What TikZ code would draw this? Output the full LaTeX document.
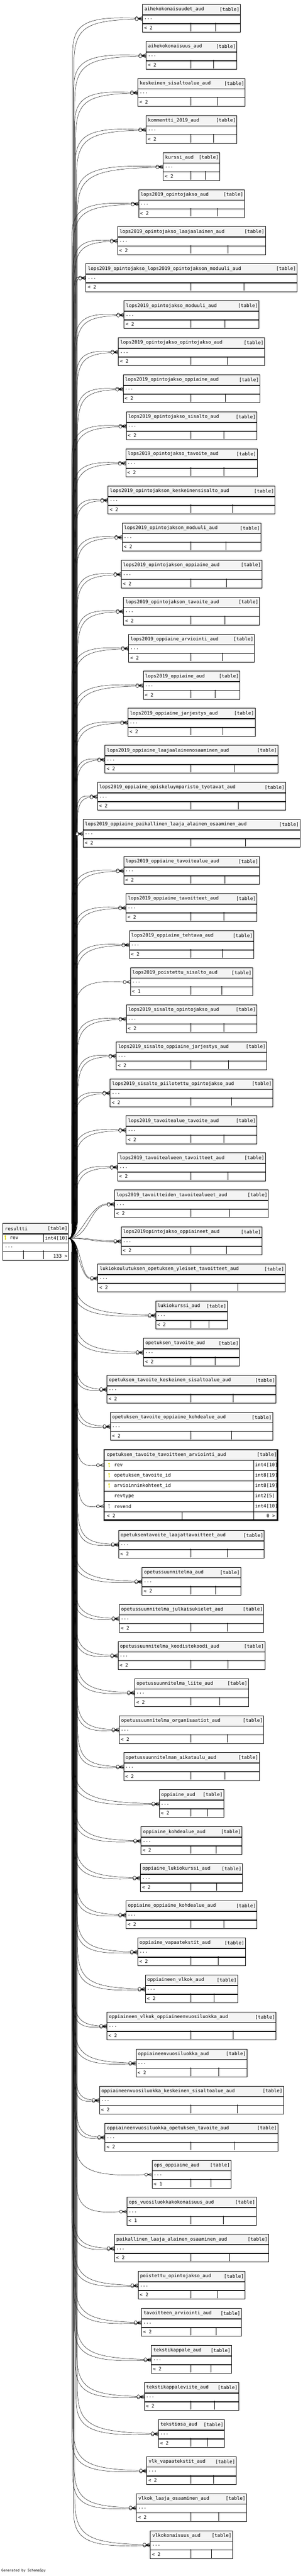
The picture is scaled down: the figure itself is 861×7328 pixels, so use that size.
\documentclass[tikz,border=0pt]{standalone}
\usepackage{fontspec}
\setmonofont{DejaVu Sans Mono}
\usetikzlibrary{positioning}
\definecolor{headgrey}{HTML}{F4F4F4}
\definecolor{pkyellow}{HTML}{E2D800}
\definecolor{fkgrey}{HTML}{A8A8A8}

\begin{document}
\catcode`\_=12
\begin{tikzpicture}[x=1pt,y=-1pt,font=\ttfamily\fontsize{13.4}{15}\selectfont,
  headbox/.style={draw,fill=headgrey,line width=0.9pt,inner sep=0pt,minimum height=29.3pt},
  rowbox/.style={draw,fill=white,line width=0.9pt,inner sep=0pt,minimum height=24.1pt},
  txt/.style={inner sep=0pt,anchor=west},
  edgeline/.style={line width=0.7pt},
  crowfoot/.style={line width=0.9pt}]

\fill[white] (0,0) rectangle (861,7328);
\useasboundingbox (0,0) rectangle (861,7328);

% parent table
\def\sx{194}
\def\sy{3521.35}
\node[headbox,minimum width=186pt,anchor=north west] (rhead) at (8,3480) {};
\node[txt] (rname) at ([xshift=6pt]rhead.west) {resultti};
\node[txt,anchor=east] (rkind) at ([xshift=-3pt]rhead.east) {[table]};
\node[rowbox,minimum width=186pt,anchor=north] (rrev) at (rhead.south) {};
\fill[pkyellow] (15,3516.5) circle (2.6pt) (14.2,3517) rectangle (15.8,3527) (15.8,3523.5) rectangle (17.5,3525);
\node[txt] (rcol) at (28,3521.35) {rev};
\node[txt,anchor=east] (rtyp) at ([xshift=-2pt]rrev.east) {int4[10]};
\draw[line width=0.9pt] (124,3509.3) -- (124,3533.4);
\node[rowbox,minimum width=186pt,anchor=north] (rmore) at (rrev.south) {};
\node[txt] (rdots) at ([xshift=5pt]rmore.west) {...};
\node[rowbox,minimum width=186pt,anchor=north] (rfoot) at (rmore.south) {};
\node[txt,anchor=east] (rkids) at ([xshift=-3pt]rfoot.east) {133 >};
\draw[line width=0.9pt] (66,3557.5) -- (66,3581.6) (124,3557.5) -- (124,3581.6);

% child tables
\foreach \tname/\tw/\tn [count=\i] in {aihekokonaisuudet_aud/278.7/2,aihekokonaisuus_aud/257.8/2,keskeinen_sisaltoalue_aud/305.3/2,kommentti_2019_aud/257.8/2,kurssi_aud/160.7/2,lops2019_opintojakso_aud/300.8/2,lops2019_opintojakso_laajaalainen_aud/420.1/2,lops2019_opintojakso_lops2019_opintojakson_moduuli_aud/600/2,lops2019_opintojakso_moduuli_aud/383.6/2,lops2019_opintojakso_opintojakso_aud/416/2,lops2019_opintojakso_oppiaine_aud/388.9/2,lops2019_opintojakso_sisalto_aud/370.9/2,lops2019_opintojakso_tavoite_aud/373.8/2,lops2019_opintojakson_keskeinensisalto_aud/474.6/2,lops2019_opintojakson_moduuli_aud/394.7/2,lops2019_opintojakson_oppiaine_aud/400/2,lops2019_opintojakson_tavoite_aud/386.5/2,lops2019_oppiaine_arviointi_aud/357.4/2,lops2019_oppiaine_aud/274.6/2,lops2019_oppiaine_jarjestys_aud/361.5/2,lops2019_oppiaine_laajaalainenosaaminen_aud/491.8/2,lops2019_oppiaine_opiskeluymparisto_tyotavat_aud/535.2/2,lops2019_oppiaine_paikallinen_laaja_alainen_osaaminen_aud/616.8/2,lops2019_oppiaine_tavoitealue_aud/385.7/2,lops2019_oppiaine_tavoitteet_aud/372.5/2,lops2019_oppiaine_tehtava_aud/353.7/2,lops2019_poistettu_sisalto_aud/347.1/1,lops2019_sisalto_opintojakso_aud/370.9/2,lops2019_sisalto_oppiaine_jarjestys_aud/428.3/2,lops2019_sisalto_piilotettu_opintojakso_aud/462.7/2,lops2019_tavoitealue_tavoite_aud/371.7/2,lops2019_tavoitealueen_tavoitteet_aud/420.1/2,lops2019_tavoitteiden_tavoitealueet_aud/437.3/2,lops2019opintojakso_oppiaineet_aud/400/2,lukiokoulutuksen_opetuksen_yleiset_tavoitteet_aud/532.8/2,lukiokurssi_aud/204.1/2,opetuksen_tavoite_aud/273.4/2,opetuksen_tavoite_keskeinen_sisaltoalue_aud/480.7/2,opetuksen_tavoite_oppiaine_kohdealue_aud/461.5/2,opetuksen_tavoite_tavoitteen_arviointi_aud/495.9/2,opetuksentavoite_laajattavoitteet_aud/413.9/2,opetussuunnitelma_aud/280.7/2,opetussuunnitelma_julkaisukielet_aud/411.1/2,opetussuunnitelma_koodistokoodi_aud/418/2,opetussuunnitelma_liite_aud/323.4/2,opetussuunnitelma_organisaatiot_aud/411.1/2,opetussuunnitelman_aikataulu_aud/385.7/2,oppiaine_aud/183.6/2,oppiaine_kohdealue_aud/286.9/2,oppiaine_lukiokurssi_aud/290.6/2,oppiaine_oppiaine_kohdealue_aud/372.5/2,oppiaine_vapaatekstit_aud/306.1/2,oppiaineen_vlkok_aud/262.3/2,oppiaineen_vlkok_oppiaineenvuosiluokka_aud/480.7/2,oppiaineenvuosiluokka_aud/315.2/2,oppiaineenvuosiluokka_keskeinen_sisaltoalue_aud/523.4/2,oppiaineenvuosiluokka_opetuksen_tavoite_aud/491.8/2,ops_oppiaine_aud/224.2/1,ops_vuosiluokkakokonaisuus_aud/367.6/1,paikallinen_laaja_alainen_osaaminen_aud/438.1/2,poistettu_opintojakso_aud/303.3/2,tavoitteen_arviointi_aud/284/2,tekstikappale_aud/228.3/2,tekstikappaleviite_aud/268.4/2,tekstiosa_aud/187.7/2,vlk_vapaatekstit_aud/254.5/2,vlkok_laaja_osaaminen_aud/313.1/2,vlkokonaisuus_aud/234/2} {
  \ifnum\i=40\else
  \pgfmathsetmacro\ttop{11.7+(\i-1)*105.4+(\i>40)*125}
  \pgfmathsetmacro\lft{544-\tw/2}
  \pgfmathsetmacro\rgt{544+\tw/2}
  \pgfmathsetmacro\tmid{(542.6+\rgt)/2}
  \node[headbox,minimum width=\tw pt,anchor=north west] (h\i) at (\lft,\ttop) {};
  \node[txt] (n\i) at ([xshift=6pt]h\i.west) {\tname};
  \node[txt,anchor=east] (k\i) at ([xshift=-3pt]h\i.east) {[table]};
  \node[rowbox,minimum width=\tw pt,anchor=north] (d\i) at (h\i.south) {};
  \node[txt] (dots\i) at ([xshift=5pt]d\i.west) {...};
  \node[rowbox,minimum width=\tw pt,anchor=north] (f\i) at (d\i.south) {};
  \node[txt] (par\i) at ([xshift=5pt]f\i.west) {< \tn};
  \draw[line width=0.9pt] (542.6,\ttop+53.4) -- (542.6,\ttop+77.5) (\tmid,\ttop+53.4) -- (\tmid,\ttop+77.5);
  % links from resultti
  \pgfmathsetmacro\py{\ttop+41.45}
  \pgfmathtruncatemacro\up{\py<\sy}
  \ifnum\up=1 \def\sg{-1}\else\def\sg{1}\fi
  \pgfmathsetmacro\xe{\lft-20}
  \foreach \ed in {1,...,\tn} {
    \pgfmathsetmacro\xb{204+mod(\i,6)*2.5+(\ed-1)*3.5}
    \ifnum\ed=1 \def\V{100}\def\offc{8}\def\offe{1.3}\def\ca{0.35}\else\def\V{135}\def\offc{-6}\def\offe{-1.3}\def\ca{0.55}\fi
    \ifnum\tn=1 \def\offe{0}\fi
    \pgfmathsetmacro\ye{\py+\sg*\offe}
    \pgfmathsetmacro\yc{\py+\sg*\offc}
    \pgfmathsetmacro\ya{\sy+\sg*18}
    \pgfmathsetmacro\yb{\sy+\sg*48}
    \pgfmathsetmacro\yv{\py-\sg*\V}
    \pgfmathsetmacro\yw{\py-\sg*\V*0.2}
    \pgfmathsetmacro\xc{\xb+(\xe-\xb)*0.16}
    \pgfmathtruncatemacro\far{abs(\py-\sy)>\V+60}
    \ifnum\far=1
      \draw[edgeline] (rrev.east) .. controls +(12,0) and (\xb,\ya) .. (\xb,\yb) -- (\xb,\yv) .. controls (\xb,\yw) and (\xc,\yc) .. (\xe,\ye) -- (d\i.west);
    \else
      \pgfmathsetmacro\xa{\sx+(\xe-\sx)*\ca}
      \pgfmathsetmacro\xd{\xe-(\xe-\sx)*0.45}
      \draw[edgeline] (rrev.east) .. controls (\xa,\sy) and (\xd,\ye) .. (\xe,\ye) -- (d\i.west);
    \fi
    \draw[crowfoot,fill=white] (\lft-16,\ye) circle (4.3pt);
    \draw[crowfoot] (\lft-11.5,\ye) -- (\lft,\ye-4.5) (\lft-11.5,\ye) -- (\lft,\ye+4.5) (\lft-11.5,\ye) -- (\lft,\ye);
  }
  \fi
}

% selected table
\def\bt{4122.3}
\node[headbox,minimum width=495.9pt,minimum height=31.1pt,anchor=north west] (bh) at (294.7,\bt) {};
\node[txt] (bname) at ([xshift=9pt]bh.west) {opetuksen_tavoite_tavoitteen_arviointi_aud};
\node[txt,anchor=east] (bkind) at ([xshift=-4pt]bh.east) {[table]};
\foreach \cname/\ctype/\ckey [count=\r] in {rev/int4[10]/1,opetuksen_tavoite_id/int8[19]/1,arvioinninkohteet_id/int8[19]/1,revtype/int2[5]/0,revend/int4[10]/2} {
  \pgfmathsetmacro\ry{\bt+31.1+(\r-1)*29.22}
  \pgfmathsetmacro\rc{\ry+14.61}
  \node[rowbox,minimum width=495.9pt,minimum height=29.22pt,anchor=north west] (b\r) at (294.7,\ry) {};
  \node[txt] (bc\r) at (324.6,\rc) {\cname};
  \node[txt] (bt\r) at (725,\rc) {\ctype};
  \draw[line width=0.9pt] (722.1,\ry) -- (722.1,\ry+29.22);
  \ifnum\ckey=1 \def\kc{pkyellow}\else\def\kc{fkgrey}\fi
  \ifnum\ckey>0
    \fill[\kc] (310.2,\rc-4.5) circle (2.7pt) (309.4,\rc-4) rectangle (311,\rc+6) (311,\rc+2.5) rectangle (312.7,\rc+4);
  \fi
}
\node[rowbox,minimum width=495.9pt,minimum height=25.3pt,anchor=north west] (bf) at (294.7,\bt+177.2) {};
\node[txt] (bpar) at ([xshift=9pt]bf.west) {< 2};
\node[txt,anchor=east] (bkids) at ([xshift=-9pt]bf.east) {0 >};
\draw[line width=0.9pt] (518.4,\bt+177.2) -- (518.4,\bt+202.5) (722.1,\bt+177.2) -- (722.1,\bt+202.5);
\draw[line width=3.3pt] (296.35,\bt+1.65) rectangle (788.95,\bt+200.85);
% links into selected table
\draw[edgeline] (rrev.east) .. controls +(12,0) and (216,\sy+18) .. (216,\sy+48) -- (216,4068) .. controls (216,4148) and (226,4176) .. (274.7,4168) -- (b1.west);
\draw[edgeline] (rrev.east) .. controls +(12,0) and (221,\sy+18) .. (221,\sy+48) -- (221,4185) .. controls (221,4265) and (230,4293) .. (274.7,4285) -- (b5.west);
\foreach \yy in {4168,4285} {
  \draw[crowfoot,fill=white] (278.7,\yy) circle (4.3pt);
  \draw[crowfoot] (283.2,\yy) -- (294.7,\yy-4.5) (283.2,\yy) -- (294.7,\yy+4.5) (283.2,\yy) -- (294.7,\yy);
}

\node[txt,font=\ttfamily\fontsize{9.5}{11}\selectfont] (gen) at (4,7313) {Generated by SchemaSpy};
\end{tikzpicture}
\end{document}
